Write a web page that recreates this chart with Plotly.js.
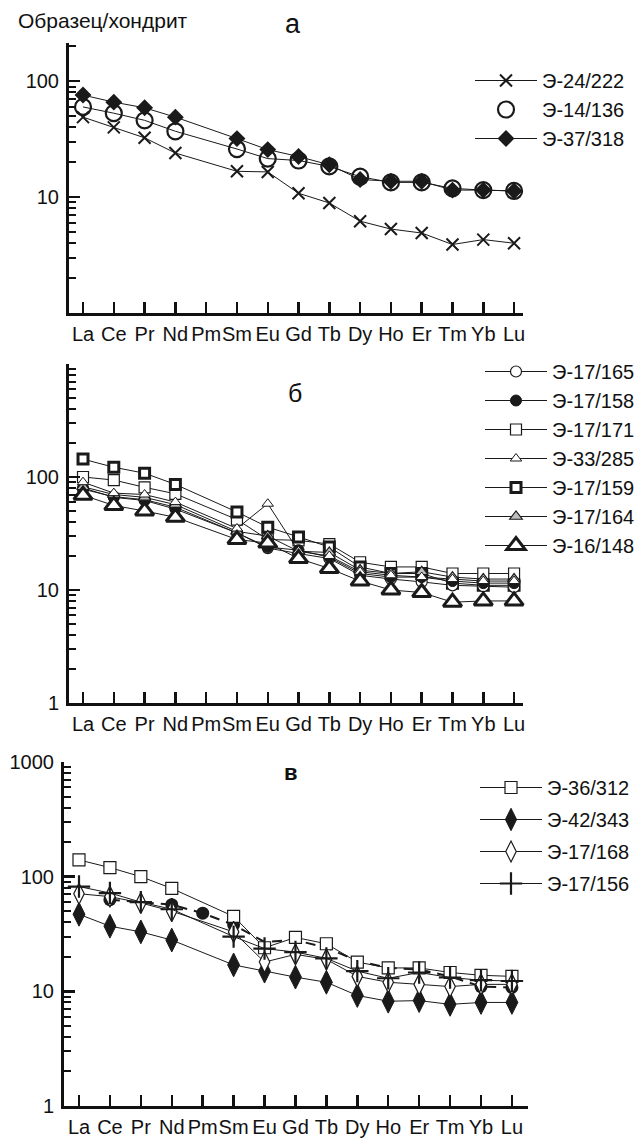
<!DOCTYPE html>
<html>
<head>
<meta charset="utf-8">
<script src="https://cdn.plot.ly/plotly-3.0.1.min.js"></script>
<style>
html,body{margin:0;padding:0;background:#fff;}
#chart{width:643px;height:1142px;}
</style>
</head>
<body>
<div id="chart"></div>
<script>
// ---- Data ----
const REE = ['La','Ce','Pr','Nd','Pm','Sm','Eu','Gd','Tb','Dy','Ho','Er','Tm','Yb','Lu'];

// Panel а
const e24_222 = [49, 40, 32.5, 24, null, 16.7, 16.5, 10.8, 8.9, 6.2, 5.3, 4.9, 3.9, 4.3, 4.0];
const e14_136 = [60, 53, 46, 37, null, 26, 21.5, 20.7, 18.4, 15, 13.4, 13.4, 11.9, 11.5, 11.3];
const e37_318 = [76, 66, 59, 49, null, 32, 25.7, 22.4, 19, 14.2, 13.7, 13.7, 11.5, 11.5, 11.3];

// Panel б
const e17_165 = [78, 67, 63, 54, null, 32, 23.5, 21, 19, 13.5, 12.5, 11.8, 11, 10.8, 10.6];
const e17_158 = [80, 66, 62, 52, null, 32, 24, 22.5, 19.5, 14, 13, 13, 12, 11.5, 11.5];
const e17_171 = [100, 94, 81, 71, null, 42, 28, 27.5, 25.5, 17.6, 16, 16, 14, 14, 14];
const e33_285 = [90, 72, 70, 60, null, 35, 58, 22, 20, 14.5, 13.5, 13, 12.5, 12, 12];
const e17_159 = [144, 122, 108, 86, null, 49, 36, 29.5, 24, 16, 14, 14, 11.5, 11, 11];
const e17_164 = [82, 70, 66, 57, null, 33, 30, 22, 21.5, 15, 14, 14.5, 13, 12.5, 12.5];
const e16_148 = [69, 56, 50, 44, null, 28, 26, 19, 15.5, 12, 10, 9.5, 7.8, 8, 8];

// Panel в
const e36_312 = [140, 120, 100, 79, null, 45, 24, 29.5, 26, 18, 16, 16, 14.6, 13.8, 13.5];
const e42_343 = [47, 37, 33, 28, null, 17, 15, 13.3, 12, 9.2, 8.2, 8.3, 7.7, 8, 8];
const e17_168 = [71, 67, 59, 50, null, 33, 18, 21, 19, 13.5, 12, 11.5, 11, 11.5, 11.5];
const e17_156 = [82, 72, 60, 52, null, 30, 23.6, 22, 19.4, 15, 13, 14.6, 13.2, 12.5, 12.3];
const dashLine = [null, 63, 60, 57, 48, 38, 27, 28, 24, 18.5, 16, 15.5, 13.5, 11, 10.8];
const dashDots = [null, 63, null, 57, 48, 38, null, null, null, null, null, null, null, 11, 10.8];

const yMinor = [2,3,4,5,6,7,8,9,20,30,40,50,60,70,80,90,200,300,400,500,600,700,800,900];

// ---- Styles ----
const FONT = 'Liberation Sans, Arial, Helvetica, sans-serif';
const LC = '#1a1a1a';
function tr(y, name, xa, ya, leg, marker, opts) {
  return Object.assign({
    x: REE, y: y, name: name, xaxis: xa, yaxis: ya, legend: leg,
    legendgroup: name, type: 'scatter', mode: 'lines+markers', connectgaps: true,
    line: {color: LC, width: 1}, marker: marker, cliponaxis: false
  }, opts || {});
}
const white = '#ffffff';

const traces = [
  // Panel а
  tr(e24_222, 'Э-24/222', 'x', 'y', 'legend', {symbol: 'x-thin', size: 12, line: {color: LC, width: 2}}),
  tr(e14_136, 'Э-14/136-l', 'x', 'y', 'legend', {size: 1}, {mode: 'lines', showlegend: false}),
  tr(e37_318, 'Э-37/318', 'x', 'y', 'legend', {symbol: 'diamond', size: 13, color: LC, line: {color: LC, width: 0}}),
  tr(e14_136, 'Э-14/136', 'x', 'y', 'legend', {symbol: 'circle-open', size: 16, color: LC, line: {color: LC, width: 2.2}}, {mode: 'markers'}),

  // Panel б
  tr(e17_171, 'Э-17/171', 'x2', 'y2', 'legend2', {symbol: 'square', size: 11, color: white, line: {color: LC, width: 1.2}}),
  tr(e17_159, 'Э-17/159', 'x2', 'y2', 'legend2', {symbol: 'square', size: 10, color: white, line: {color: LC, width: 3}}),
  tr(e17_165, 'Э-17/165', 'x2', 'y2', 'legend2', {symbol: 'circle', size: 11, color: white, line: {color: LC, width: 1.2}}),
  tr(e17_158, 'Э-17/158', 'x2', 'y2', 'legend2', {symbol: 'circle', size: 11, color: LC, line: {color: LC, width: 1}}),
  tr(e17_164, 'Э-17/164', 'x2', 'y2', 'legend2', {symbol: 'triangle-up', size: 11, color: '#bdbdbd', line: {color: LC, width: 1.2}}),
  tr(e33_285, 'Э-33/285', 'x2', 'y2', 'legend2', {symbol: 'triangle-up', size: 10, color: white, line: {color: LC, width: 1}}),
  tr(e16_148, 'Э-16/148', 'x2', 'y2', 'legend2', {symbol: 'triangle-up', size: 16, color: white, line: {color: LC, width: 3}}),

  // Panel в
  tr(dashLine, 'dash', 'x3', 'y3', 'legend3', {size: 1}, {mode: 'lines', showlegend: false, line: {color: LC, width: 2, dash: '10px,7px'}}),
  tr(dashDots, 'dots', 'x3', 'y3', 'legend3', {symbol: 'circle', size: 13, color: LC}, {mode: 'markers', showlegend: false}),
  tr(e36_312, 'Э-36/312', 'x3', 'y3', 'legend3', {symbol: 'square', size: 12, color: white, line: {color: LC, width: 1.2}}),
  tr(e42_343, 'Э-42/343', 'x3', 'y3', 'legend3', {symbol: 'diamond-tall', size: 17, color: LC, line: {color: LC, width: 1}}),
  tr(e17_168, 'Э-17/168', 'x3', 'y3', 'legend3', {symbol: 'diamond-tall', size: 15, color: white, line: {color: LC, width: 1.2}}),
  tr(e17_156, 'Э-17/156', 'x3', 'y3', 'legend3', {symbol: 'cross-thin', size: 16, color: LC, line: {color: LC, width: 2.2}})
];

// legend order for panels
const orderA = ['Э-24/222','Э-14/136','Э-37/318'];
const orderB = ['Э-17/165','Э-17/158','Э-17/171','Э-33/285','Э-17/159','Э-17/164','Э-16/148'];
const orderC = ['Э-36/312','Э-42/343','Э-17/168','Э-17/156'];
traces.forEach(t => {
  let i = orderA.indexOf(t.name);
  if (i < 0) i = orderB.indexOf(t.name);
  if (i < 0) i = orderC.indexOf(t.name);
  if (i >= 0) t.legendrank = i + 1;
});

function xax(domain, range, anchor) {
  return {
    domain: domain, range: range, anchor: anchor, type: 'category',
    showline: true, linecolor: '#111', linewidth: 3,
    ticks: 'inside', ticklen: 11, tickwidth: 2.5, tickcolor: '#111',
    showgrid: false, zeroline: false, fixedrange: true, tickangle: 0,
    tickfont: {family: FONT, size: 20, color: '#111'}, ticklabelstandoff: 1
  };
}
function yax(domain, range, anchor, tv) {
  return {
    domain: domain, range: range, anchor: anchor, type: 'log',
    showline: true, linecolor: '#111', linewidth: 3,
    tickmode: 'array', tickvals: tv, ticktext: tv.map(String),
    ticks: 'inside', ticklen: 11, tickwidth: 2.5, tickcolor: '#111',
    minor: {tickmode: 'array', tickvals: yMinor, ticks: 'inside', ticklen: 7, tickwidth: 2, tickcolor: '#111', showgrid: false},
    showgrid: false, zeroline: false, fixedrange: true,
    tickfont: {family: FONT, size: 20, color: '#111'}, ticklabelstandoff: 3
  };
}
const H = 1142, W = 643;
const py = v => 1 - v / H;
const px = v => v / W;

function legendCfg(x, y, gap, fs) {
  return {
    x: x, y: y, xanchor: 'left', yanchor: 'top', bgcolor: 'rgba(0,0,0,0)',
    font: {family: FONT, size: fs || 20, color: '#111'}, itemwidth: 62,
    traceorder: 'grouped', tracegroupgap: gap, itemclick: false
  };
}

const layout = {
  width: W, height: H,
  margin: {l: 0, r: 0, t: 0, b: 0},
  paper_bgcolor: '#fff', plot_bgcolor: 'rgba(0,0,0,0)',
  showlegend: true,
  font: {family: FONT, color: '#111'},
  xaxis: xax([px(69), px(523)], [-0.455, 14.29], 'y'),
  yaxis: yax([py(313), py(43)], [0, 2.33], 'x', [10, 100]),
  xaxis2: xax([px(69), px(523)], [-0.455, 14.29], 'y2'),
  yaxis2: yax([py(703), py(364)], [0, 3], 'x2', [1, 10, 100]),
  xaxis3: Object.assign(xax([px(64), px(528)], [-0.485, 14.52], 'y3'), {ticklabelstandoff: 1}),
  yaxis3: yax([py(1106), py(762)], [0, 3], 'x3', [1, 10, 100, 1000]),
  legend: legendCfg(px(470), py(61), 0),
  legend2: legendCfg(px(480), py(352), 0),
  legend3: legendCfg(px(475), py(768), 3),
  annotations: [
    {xref: 'paper', yref: 'paper', x: px(16), y: py(21), xanchor: 'left', yanchor: 'middle', showarrow: false,
     text: 'Образец/хондрит', font: {family: FONT, size: 21, color: '#111'}},
    {xref: 'paper', yref: 'paper', x: px(293), y: py(24), xanchor: 'center', yanchor: 'middle', showarrow: false,
     text: 'а', font: {family: FONT, size: 27, color: '#111'}},
    {xref: 'paper', yref: 'paper', x: px(295), y: py(393), xanchor: 'center', yanchor: 'middle', showarrow: false,
     text: 'б', font: {family: FONT, size: 25, color: '#111'}},
    {xref: 'paper', yref: 'paper', x: px(291), y: py(772), xanchor: 'center', yanchor: 'middle', showarrow: false,
     text: '<b>в</b>', font: {family: FONT, size: 22, color: '#111'}}
  ]
};

Plotly.newPlot('chart', traces, layout, {staticPlot: true, displayModeBar: false});
</script>
</body>
</html>
